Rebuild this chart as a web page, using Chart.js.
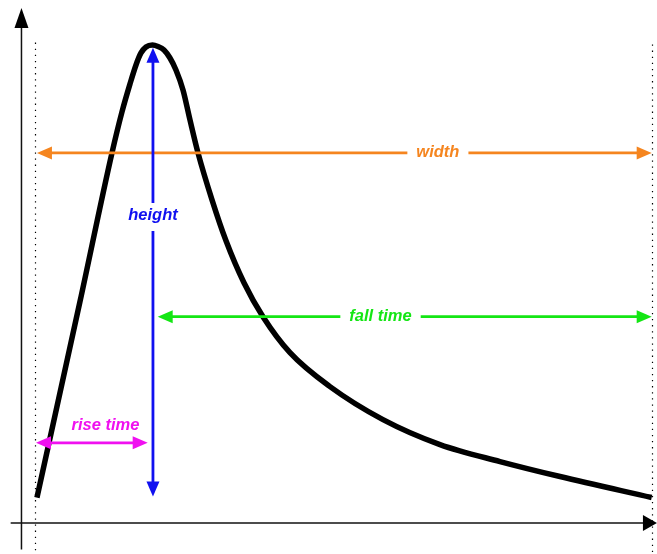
<!DOCTYPE html>
<html>
<head>
<meta charset="utf-8">
<script src="https://cdn.jsdelivr.net/npm/chart.js@4/dist/chart.umd.min.js"></script>
<style>
  html, body { margin: 0; padding: 0; background: #fff; }
  canvas { display: block; }
</style>
</head>
<body>
<canvas id="c" width="657" height="554"></canvas>
<script>
// ---- Data (time in arbitrary units 0..100, amplitude 0..100) ----
const pulseTime = [0.32, 7.29, 12.48, 14.10, 15.40, 16.37, 17.18, 17.99, 19.04, 19.94, 20.91, 21.88, 22.85, 23.99, 25.12, 26.42, 28.69, 30.96, 33.87, 36.95, 41.33, 47.81, 56.40, 65.64, 75.36, 85.09, 99.95];
const pulseAmp  = [5.33, 46.34, 77.51, 86.09, 91.95, 95.92, 98.43, 99.69, 100.10, 99.79, 99.06, 97.38, 94.87, 90.69, 84.41, 77.51, 67.68, 59.10, 50.31, 43.20, 35.67, 28.56, 21.65, 16.42, 12.87, 9.73, 5.33];

// pulse boundaries (dotted markers)
const markerTimes = [0, 100];
const markerTopAmp = [100.6, 100.2];

// axes extents
const axisYTime = -2.19;
const axisYRange = [-5.54, 107.85];
const axisXAmp = 0;
const axisXRange = [-3.94, 100.8];

// measurement annotations
const annLabels = ["width", "height", "fall time", "rise time"];
const annStartT = [0.32, 19.12, 19.89, 0.16];
const annStartA = [77.5, 5.54, 43.2, 16.8];
const annEndT   = [99.95, 19.12, 99.95, 18.27];
const annEndA   = [77.5, 99.5, 43.2, 16.8];
const annLabelT = [65.3, 19.12, 56.0, 11.43];
const annLabelA = [77.5, 64.5, 43.2, 20.4];
const annColors = ["#f5851f", "#1010f0", "#14e614", "#f010f0"];
const annBreak  = [true, true, true, false];

function arrowHead(ctx, x1, y1, x2, y2, len, wid, color) {
  const ang = Math.atan2(y2 - y1, x2 - x1);
  ctx.save();
  ctx.translate(x2, y2);
  ctx.rotate(ang);
  ctx.fillStyle = color;
  ctx.beginPath();
  ctx.moveTo(0, 0);
  ctx.lineTo(-len, -wid / 2);
  ctx.lineTo(-len, wid / 2);
  ctx.closePath();
  ctx.fill();
  ctx.restore();
}

const annotate = {
  id: 'annotate',
  beforeDatasetsDraw(chart) {
    const ctx = chart.ctx, xs = chart.scales.x, ys = chart.scales.y;
    ctx.save();
    ctx.strokeStyle = '#000';
    ctx.lineWidth = 1.2;
    ctx.setLineDash([1.3, 4.8]);
    markerTimes.forEach((t, i) => {
      const px = Math.round(xs.getPixelForValue(t)) + 0.5;
      ctx.beginPath();
      ctx.moveTo(px, ys.getPixelForValue(markerTopAmp[i]));
      ctx.lineTo(px, chart.height);
      ctx.stroke();
    });
    ctx.setLineDash([]);
    ctx.strokeStyle = '#111';
    ctx.lineWidth = 1.5;
    const ax = xs.getPixelForValue(axisYTime);
    const yb = ys.getPixelForValue(axisYRange[0]), yt = ys.getPixelForValue(axisYRange[1]);
    ctx.beginPath(); ctx.moveTo(ax, yb); ctx.lineTo(ax, yt + 18); ctx.stroke();
    arrowHead(ctx, ax, yb, ax, yt, 20, 14, '#000');
    const ay = ys.getPixelForValue(axisXAmp);
    const xl = xs.getPixelForValue(axisXRange[0]), xr = xs.getPixelForValue(axisXRange[1]);
    ctx.beginPath(); ctx.moveTo(xl, ay); ctx.lineTo(xr - 10, ay); ctx.stroke();
    arrowHead(ctx, xl, ay, xr, ay, 14, 16, '#000');
    ctx.restore();
  },
  afterDatasetsDraw(chart) {
    const ctx = chart.ctx, xs = chart.scales.x, ys = chart.scales.y;
    ctx.save();
    ctx.font = 'italic bold 16.5px "Liberation Sans", Arial, sans-serif';
    ctx.textAlign = 'center';
    ctx.textBaseline = 'middle';
    annLabels.forEach((lab, i) => {
      const x1 = xs.getPixelForValue(annStartT[i]), y1 = ys.getPixelForValue(annStartA[i]);
      const x2 = xs.getPixelForValue(annEndT[i]), y2 = ys.getPixelForValue(annEndA[i]);
      const lx = xs.getPixelForValue(annLabelT[i]), ly = ys.getPixelForValue(annLabelA[i]);
      const col = annColors[i];
      const headLen = 15, headW = 13;
      ctx.strokeStyle = col;
      ctx.lineWidth = 2.8;
      const horiz = Math.abs(y2 - y1) < Math.abs(x2 - x1);
      const dx = x2 - x1, dy = y2 - y1, L = Math.hypot(dx, dy);
      const ux = dx / L, uy = dy / L;
      const sx = x1 + ux * (headLen - 2), sy = y1 + uy * (headLen - 2);
      const ex = x2 - ux * (headLen - 2), ey = y2 - uy * (headLen - 2);
      ctx.beginPath();
      if (annBreak[i]) {
        const tw = ctx.measureText(lab).width;
        if (horiz) {
          const g1 = lx - tw / 2 - 9, g2 = lx + tw / 2 + 9;
          ctx.moveTo(sx, sy); ctx.lineTo(g1, sy);
          ctx.moveTo(g2, sy); ctx.lineTo(ex, ey);
        } else {
          const g1 = ly - 12, g2 = ly + 16;
          ctx.moveTo(sx, ey); ctx.lineTo(sx, g1);
          ctx.moveTo(sx, g2); ctx.lineTo(sx, sy);
        }
      } else {
        ctx.moveTo(sx, sy); ctx.lineTo(ex, ey);
      }
      ctx.stroke();
      arrowHead(ctx, x2, y2, x1, y1, headLen, headW, col);
      arrowHead(ctx, x1, y1, x2, y2, headLen, headW, col);
      ctx.fillStyle = col;
      ctx.fillText(lab, lx, ly);
    });
    ctx.restore();
  }
};

const pulsePoints = pulseTime.map((t, i) => ({ x: t, y: pulseAmp[i] }));

new Chart(document.getElementById('c'), {
  type: 'line',
  data: {
    datasets: [{
      data: pulsePoints,
      borderColor: '#000',
      borderWidth: 5.5,
      pointRadius: 0,
      fill: false,
      cubicInterpolationMode: 'monotone',
      borderCapStyle: 'butt',
      borderJoinStyle: 'round'
    }]
  },
  options: {
    responsive: false,
    animation: false,
    layout: { padding: 0 },
    plugins: { legend: { display: false }, tooltip: { enabled: false } },
    scales: {
      x: { type: 'linear', min: -5.67, max: 100.81, display: false },
      y: { type: 'linear', min: -6.49, max: 109.52, display: false }
    }
  },
  plugins: [annotate]
});
</script>
</body>
</html>
